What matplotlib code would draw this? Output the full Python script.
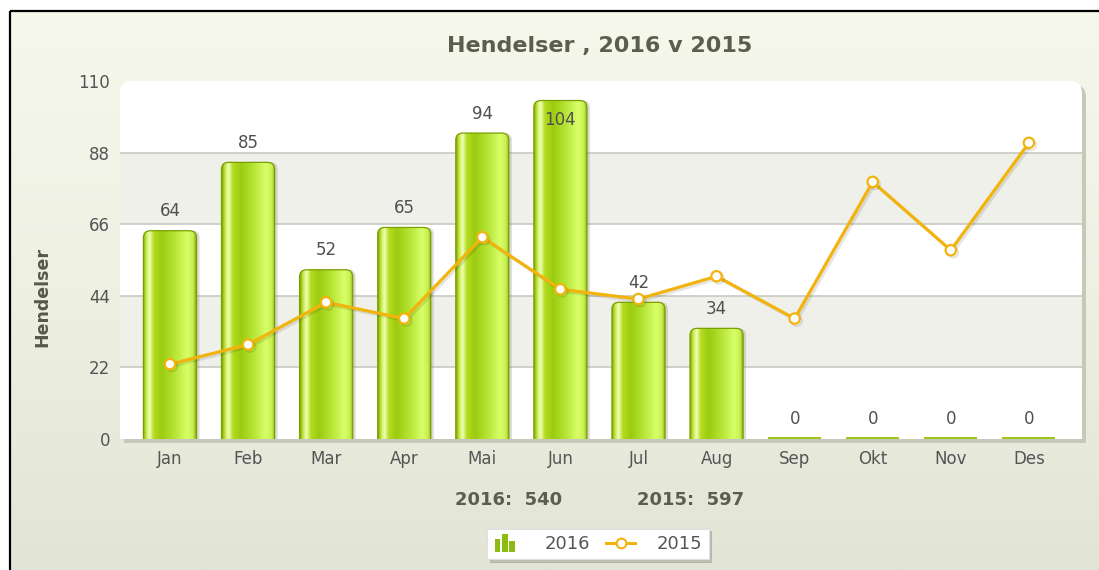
import numpy as np
import matplotlib
matplotlib.use("Agg")
import matplotlib.pyplot as plt
from matplotlib.patches import FancyBboxPatch, Rectangle
from matplotlib.lines import Line2D
from matplotlib.legend_handler import HandlerBase
import matplotlib.patheffects as pe
from matplotlib.colors import LinearSegmentedColormap

plt.rcParams["font.family"] = ["DejaVu Sans"]

# ---- data ----
months = ["Jan", "Feb", "Mar", "Apr", "Mai", "Jun", "Jul", "Aug", "Sep", "Okt", "Nov", "Des"]
values_2016 = [64, 85, 52, 65, 94, 104, 42, 34, 0, 0, 0, 0]
values_2015 = [23, 29, 42, 37, 62, 46, 43, 50, 37, 79, 58, 91]
yticks = [0, 22, 44, 66, 88, 110]
title = "Hendelser , 2016 v 2015"
ylabel = "Hendelser"
series_names = ["2016", "2015"]

W, H = 1099, 570
fig = plt.figure(figsize=(W / 100, H / 100), dpi=100)
fig.patch.set_facecolor("white")

# background gradient inside black frame
bg = fig.add_axes([0, 0, 1, 1], zorder=-10)
bg.set_axis_off()
grad = np.linspace(0, 1, 256).reshape(-1, 1)
bg_cmap = LinearSegmentedColormap.from_list("bg", ["#f6f8ec", "#eef0e2", "#e2e4d6"])
x0f, y1f = 10 / W, 1 - 11 / H
bg.imshow(grad, aspect="auto", cmap=bg_cmap, extent=[x0f, 1.0, 0.0, y1f], origin="upper")
bg.set_xlim(0, 1)
bg.set_ylim(0, 1)
bg.plot([x0f, x0f], [0, y1f], color="black", lw=1.6, solid_capstyle="butt")
bg.plot([x0f, 1.0], [y1f, y1f], color="black", lw=1.6, solid_capstyle="butt")

# main axes
L, R, T, B = 120, 1082, 81, 439
ax = fig.add_axes([L / W, 1 - B / H, (R - L) / W, (B - T) / H])
ax.set_facecolor("none")
for s in ax.spines.values():
    s.set_visible(False)

n = len(months)
x = np.arange(n)
ax.set_xlim(-0.64, n - 0.32)
ax.set_ylim(0, 110)

# plot-area rounded background (top corners rounded) with shadow (axes coords)
axw, axh = R - L, B - T
rs = 12 / axw
ma = axw / axh
sdx, sdy = 4 / axw, -4 / axh
for dx, dy, fc, z in [(sdx, sdy, "#c6c8ba", -5), (0, 0, "white", -4)]:
    ax.add_patch(FancyBboxPatch((dx, 0.5 + dy), 1, 0.5, boxstyle=f"round,pad=0,rounding_size={rs}",
                                mutation_aspect=ma, transform=ax.transAxes, facecolor=fc,
                                edgecolor="none", zorder=z, clip_on=False))
    ax.add_patch(Rectangle((dx, dy), 1, 0.6, transform=ax.transAxes, facecolor=fc,
                           edgecolor="none", zorder=z, clip_on=False))

# alternating bands and grid
for i in range(1, len(yticks) - 1, 2):
    ax.axhspan(yticks[i], yticks[i + 1], color="#eff0e9", zorder=-3, lw=0)
for yt in yticks[1:-1]:
    ax.axhline(yt, color="#c4c5bd", lw=1.1, zorder=-2)

# bars
bar_w = 0.68
bars = ax.bar(x, values_2016, width=bar_w, color="none", edgecolor="none", zorder=2)
bar_cmap = LinearSegmentedColormap.from_list(
    "bar", [(0.0, "#86ae00"), (0.06, "#c8ec50"), (0.12, "#f0ffb8"), (0.2, "#b4dc20"),
            (0.35, "#9ccc10"), (0.6, "#b8e638"), (0.82, "#d8ff68"), (0.93, "#c8f050"),
            (1.0, "#7ea400")])
hgrad = np.linspace(0, 1, 200).reshape(1, -1)
px_x = axw / (ax.get_xlim()[1] - ax.get_xlim()[0])
px_y = axh / 110.0
rx = 7 / px_x
ry = 7 / px_y
for rect, v in zip(bars, values_2016):
    bx, bw = rect.get_x(), rect.get_width()
    if v > 0:
        sh = FancyBboxPatch((bx + 3 / px_x, -ry), bw, v + ry, boxstyle=f"round,pad=0,rounding_size={rx}",
                            mutation_aspect=ry / rx, facecolor="#8a8c80", edgecolor="none",
                            alpha=0.3, zorder=1.5)
        ax.add_patch(sh)
        p = FancyBboxPatch((bx, -ry), bw, v + ry, boxstyle=f"round,pad=0,rounding_size={rx}",
                           mutation_aspect=ry / rx, facecolor="none", edgecolor="#7a9e00",
                           lw=0.9, zorder=3)
        ax.add_patch(p)
        im = ax.imshow(hgrad, aspect="auto", cmap=bar_cmap, extent=[bx, bx + bw, 0, v],
                       zorder=2.5, interpolation="bilinear")
        im.set_clip_path(p)
    else:
        ax.add_patch(Rectangle((bx, 0), bw, 2 / px_y, facecolor="#9cc818", edgecolor="none", zorder=2.5))
    # value label
    ty = v + 6.0
    if ty + 3 > 110:
        ty = v - 6.0
    ax.text(rect.get_x() + bw / 2, ty, f"{v}", ha="center", va="center", fontsize=12,
            color="#505050", zorder=6)

ax.set_xlim(-0.64, n - 0.32)
ax.set_ylim(0, 110)

# line
ax.plot(x, values_2015, color="#f2b40c", lw=2.3, marker="o", markersize=7.5,
        markerfacecolor="white", markeredgecolor="#f2b40c", markeredgewidth=1.6, zorder=5,
        path_effects=[pe.SimpleLineShadow(offset=(1.5, -1.5), alpha=0.1), pe.Normal()])

# ticks
ax.set_xticks(x)
ax.set_xticklabels(months, fontsize=12, color="#555555")
ax.set_yticks(yticks)
ax.set_yticklabels([str(t) for t in yticks], fontsize=12, color="#555555")
ax.tick_params(axis="both", length=0)
ax.tick_params(axis="x", pad=8)
ax.tick_params(axis="y", pad=7)

# title & label
fig.text(600 / W, 1 - 46 / H, title, ha="center", va="center", fontsize=16,
         fontweight="bold", color="#5a5e4e")
fig.text(42 / W, 1 - 297 / H, ylabel, ha="center", va="center", rotation=90, fontsize=12.5,
         fontweight="bold", color="#555a48")

# totals
tot16 = sum(values_2016)
tot15 = sum(values_2015)
fig.text(509 / W, 1 - 500 / H, f"{series_names[0]}:  {tot16}", ha="center", va="center",
         fontsize=13, fontweight="bold", color="#5a5e4e")
fig.text(691 / W, 1 - 500 / H, f"{series_names[1]}:  {tot15}", ha="center", va="center",
         fontsize=13, fontweight="bold", color="#5a5e4e")


# legend
class BarIconHandler(HandlerBase):
    def create_artists(self, legend, orig_handle, xdescent, ydescent, width, height, fontsize, trans):
        arts = []
        bw = width / 5.5
        hs = [0.8, 1.2, 0.65]
        for i, hh in enumerate(hs):
            r = Rectangle((width * 0.05 + i * bw * 1.35, -ydescent - 2), bw, height * hh + 2,
                          facecolor="#8cbc10", edgecolor="none", transform=trans)
            arts.append(r)
        return arts


bar_handle = Rectangle((0, 0), 1, 1, facecolor="#8cbc10")
line_handle = Line2D([], [], color="#f2b40c", lw=2.2, marker="o", markersize=7,
                     markerfacecolor="white", markeredgecolor="#f2b40c", markeredgewidth=1.5)
leg = fig.legend([bar_handle, line_handle], series_names, loc="center",
                 bbox_to_anchor=(598 / W, 1 - 544 / H), ncol=2, frameon=True, fancybox=False,
                 shadow={"color": "#9a9c90", "alpha": 0.5}, fontsize=13, handlelength=1.6,
                 handletextpad=1.2, columnspacing=0.9, borderpad=0.35,
                 handler_map={Rectangle: BarIconHandler()})
leg.get_frame().set_facecolor("white")
leg.get_frame().set_edgecolor("#e0e0e0")
leg.get_frame().set_linewidth(0.8)
for t in leg.get_texts():
    t.set_color("#555555")

fig.savefig("out.png", dpi=100)
